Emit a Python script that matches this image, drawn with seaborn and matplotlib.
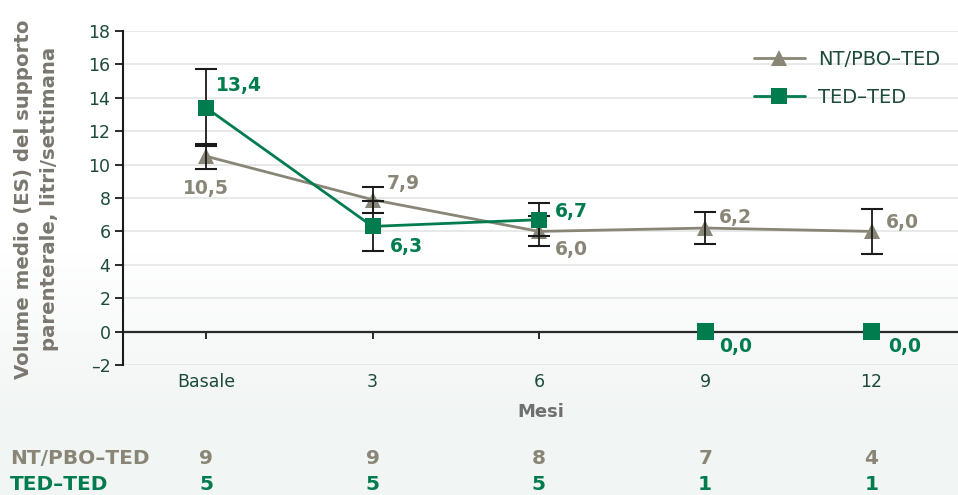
import matplotlib
matplotlib.use('Agg')
import matplotlib.pyplot as plt
import numpy as np
import pandas as pd
import seaborn as sns

# data
months = ['Basale', '3', '6', '9', '12']
nt_mean = [10.5, 7.9, 6.0, 6.2, 6.0]
nt_se = [0.75, 0.78, 0.9, 0.95, 1.35]
ted_mean = [13.4, 6.3, 6.7, 0.0, 0.0]
ted_se = [2.3, 1.5, 1.0, 0.0, 0.0]
nt_n = [9, 9, 8, 7, 4]
ted_n = [5, 5, 5, 1, 1]
nt_labels = ['10,5', '7,9', '6,0', '6,2', '6,0']
ted_labels = ['13,4', '6,3', '6,7', '0,0', '0,0']

GRAY = '#8a8677'
GREEN = '#007c4f'
DARK = '#1d4a3c'
FONT = ['DejaVu Sans']

# label offsets in pixels (styling only)
nt_off = [(0, -32, 'center'), (14, 16, 'left'), (16, -18, 'left'), (14, 11, 'left'), (14, 9, 'left')]
ted_off = [(10, 22, 'left'), (17, -20, 'left'), (16, 8, 'left'), (14, -15, 'left'), (17, -15, 'left')]

sns.set_style('white')
plt.rcParams['font.family'] = FONT

fig = plt.figure(figsize=(9.58, 4.95), dpi=100)

# soft background gradient (white at top, pale green-grey at the bottom)
bg = fig.add_axes([0, 0, 1, 1], zorder=-10)
grad = np.zeros((100, 1))
grad[50:85, 0] = np.linspace(0.0, 1.0, 35)
grad[85:, 0] = 1.0
bg.imshow(grad, aspect='auto', cmap=matplotlib.colors.LinearSegmentedColormap.from_list('bg', ['#ffffff', '#f1f5f3']),
          extent=[0, 1, 0, 1], vmin=0, vmax=1, origin='upper')
bg.axis('off')

ax = fig.add_axes([123 / 958, 1 - 365 / 495, (958 - 123) / 958, 334 / 495])
ax.set_facecolor('none')

x = np.arange(len(months))
df = pd.DataFrame({'x': np.concatenate([x, x]),
                   'mean': nt_mean + ted_mean,
                   'group': ['NT/PBO–TED'] * 5 + ['TED–TED'] * 5})

for yv in range(-2, 19, 2):
    ax.axhline(yv, color='#e4e6e5', lw=1.2, zorder=0)
ax.axhline(0, color='#2a2a2a', lw=1.6, zorder=1)

# NT line
sns.lineplot(data=df[df['group'] == 'NT/PBO–TED'], x='x', y='mean', color=GRAY, lw=2,
             marker='^', markersize=12, markeredgewidth=0, ax=ax, zorder=3, label='NT/PBO–TED')
ax.errorbar(x, nt_mean, yerr=nt_se, fmt='none', ecolor='#1a1a1a', elinewidth=1.3,
            capsize=8, capthick=1.5, zorder=4)
ax.errorbar(x[:3], ted_mean[:3], yerr=ted_se[:3], fmt='none', ecolor='#1a1a1a', elinewidth=1.3,
            capsize=8, capthick=1.5, zorder=4)
ted_df = df[df['group'] == 'TED–TED']
sns.lineplot(data=ted_df.iloc[:3], x='x', y='mean', color=GREEN, lw=2,
             marker='s', markersize=12, markeredgewidth=0, ax=ax, zorder=5, label='TED–TED')
sns.scatterplot(data=ted_df.iloc[3:], x='x', y='mean', color=GREEN, marker='s', s=150,
                edgecolor='none', ax=ax, zorder=5)

for i in range(len(months)):
    dx, dy, ha = nt_off[i]
    ax.annotate(nt_labels[i], (x[i], nt_mean[i]), xytext=(dx, dy), textcoords='offset pixels',
                ha=ha, va='center', color=GRAY, fontsize=13.5, fontweight='bold', zorder=6)
    dx, dy, ha = ted_off[i]
    ax.annotate(ted_labels[i], (x[i], ted_mean[i]), xytext=(dx, dy), textcoords='offset pixels',
                ha=ha, va='center', color=GREEN, fontsize=13.5, fontweight='bold', zorder=6)

ax.set_xlim(-0.5, 4.52)
ax.set_ylim(-2, 18)
ax.set_yticks(range(-2, 19, 2))
ax.set_yticklabels([str(v).replace('-', '–') for v in range(-2, 19, 2)])
ax.set_xticks(x)
ax.set_xticklabels(months)
for s in ['top', 'right']:
    ax.spines[s].set_visible(False)
ax.spines['left'].set_color('#1a1a1a')
ax.spines['left'].set_linewidth(1.5)
ax.spines['bottom'].set_position(('data', 0))
ax.spines['bottom'].set_visible(False)
ax.tick_params(axis='y', length=6, width=1.3, color='#1a1a1a', labelcolor=DARK, labelsize=12.5, pad=3, left=True)
ax.tick_params(axis='x', length=5, width=1.3, color='#1a1a1a', labelcolor=DARK, labelsize=12.5, pad=25, bottom=True)

ax.set_xlabel('Mesi', color='#6f6f6f', fontsize=13, fontweight='bold')
ax.xaxis.set_label_coords(0.5, -0.114)
ax.set_ylabel('Volume medio (ES) del supporto\nparenterale, litri/settimana', color='#7a7770',
              fontsize=14.2, fontweight='bold', linespacing=1.45)
ax.yaxis.set_label_coords(-0.077, 0.497)

leg = ax.legend(loc='upper right', bbox_to_anchor=(1.0, 0.995), frameon=False, fontsize=14,
                handlelength=2.6, labelspacing=0.95, handletextpad=0.7)
for t in leg.get_texts():
    t.set_color(DARK)

# numbers at risk
fig.text(10 / 958, 1 - 458 / 495, 'NT/PBO–TED', color=GRAY, fontsize=14.5, fontweight='bold', va='center')
fig.text(10 / 958, 1 - 484 / 495, 'TED–TED', color=GREEN, fontsize=14.5, fontweight='bold', va='center')
trans = matplotlib.transforms.blended_transform_factory(ax.transData, fig.transFigure)
for i in range(len(months)):
    fig.text(x[i], 1 - 458 / 495, str(nt_n[i]), transform=trans, color=GRAY, fontsize=14.5,
             fontweight='bold', ha='center', va='center')
    fig.text(x[i], 1 - 484 / 495, str(ted_n[i]), transform=trans, color=GREEN, fontsize=14.5,
             fontweight='bold', ha='center', va='center')

fig.savefig('out.png', dpi=100)
